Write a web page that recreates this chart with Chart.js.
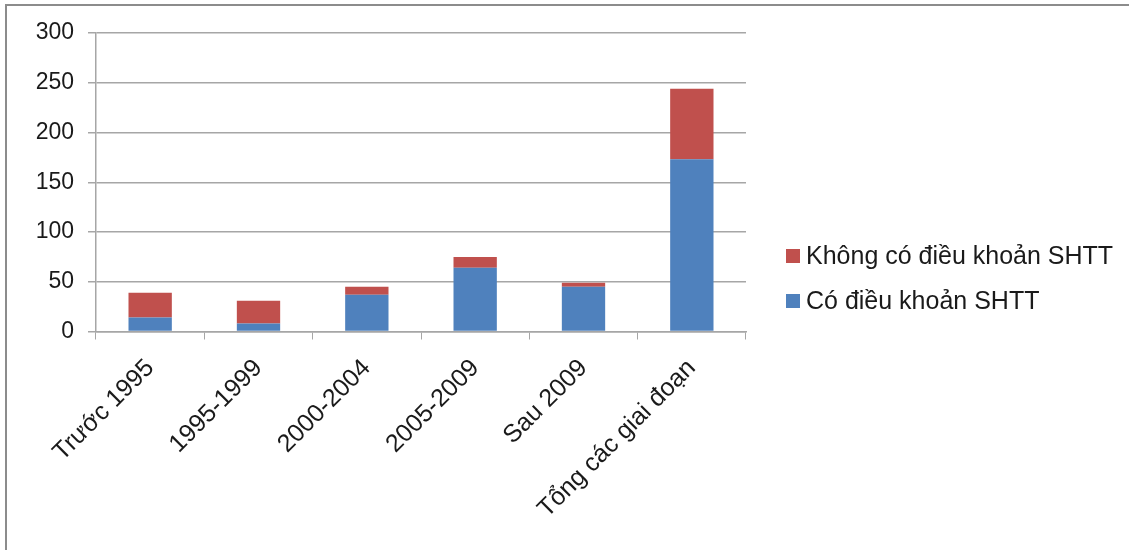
<!DOCTYPE html>
<html lang="vi">
<head>
    <meta charset="UTF-8">
    <title>Điều khoản SHTT</title>
    <style>
        body {
            margin: 0;
            background: #fff;
        }
        .wrap {
            position: relative;
            width: 1129px;
            height: 550px;
        }
        .frame {
            position: absolute;
            left: 5px;
            top: 4px;
            right: 0;
            bottom: 0;
            border-left: 2px solid #8c8c8c;
            border-top: 2px solid #8c8c8c;
            pointer-events: none;
        }
    </style>
</head>
<body>
    <div class="wrap">
        <canvas id="chart" width="1129" height="550"></canvas>
        <div class="frame"></div>
    </div>
    <script src="https://cdn.jsdelivr.net/npm/chart.js"></script>
    <script>
        // categories (periods)
        const periods = ['Trước 1995', '1995-1999', '2000-2004', '2005-2009', 'Sau 2009', 'Tổng các giai đoạn'];
        // agreements with an IP clause
        const withClause = [14, 8, 37, 64, 45, 173];
        // agreements without an IP clause
        const withoutClause = [25, 23, 8, 11, 4, 71];
        const yTicks = [0, 50, 100, 150, 200, 250, 300];

        const FONT = "'Liberation Sans', Arial, sans-serif";
        const TEXT = '#1a1a1a';
        const GRID = '#a6a6a6';

        // legend drawn at the right, red entry first like the original
        const sideLegend = {
            id: 'sideLegend',
            afterDraw(chart) {
                const ctx = chart.ctx;
                const items = chart.data.datasets.slice().reverse();
                ctx.save();
                ctx.font = '25px ' + FONT;
                ctx.textBaseline = 'middle';
                ctx.textAlign = 'left';
                items.forEach((ds, i) => {
                    const cy = 256 + i * 45;
                    ctx.fillStyle = ds.backgroundColor;
                    ctx.fillRect(786, cy - 7, 14, 14);
                    ctx.fillStyle = TEXT;
                    ctx.fillText(ds.label, 806, cy + 1);
                });
                ctx.restore();
            }
        };

        const ctx = document.getElementById('chart').getContext('2d');
        new Chart(ctx, {
            type: 'bar',
            data: {
                labels: periods,
                datasets: [
                    {
                        label: 'Có điều khoản SHTT',
                        data: withClause,
                        backgroundColor: '#4f81bd'
                    },
                    {
                        label: 'Không có điều khoản SHTT',
                        data: withoutClause,
                        backgroundColor: '#c0504d'
                    }
                ]
            },
            options: {
                responsive: false,
                animation: false,
                layout: {
                    padding: { left: 0, top: 33, right: 383, bottom: 0 }
                },
                datasets: {
                    bar: {
                        categoryPercentage: 1,
                        barPercentage: 0.4
                    }
                },
                plugins: {
                    legend: { display: false },
                    tooltip: { enabled: false }
                },
                scales: {
                    x: {
                        stacked: true,
                        afterFit: (scale) => { scale.height = 218.5; },
                        grid: {
                            drawOnChartArea: false,
                            color: GRID,
                            tickLength: 8
                        },
                        border: { color: GRID, width: 1.5 },
                        ticks: {
                            color: TEXT,
                            font: { family: FONT, size: 25 },
                            minRotation: 45,
                            maxRotation: 45,
                            padding: 14
                        }
                    },
                    y: {
                        stacked: true,
                        min: 0,
                        max: 300,
                        afterFit: (scale) => { scale.width = 96; },
                        afterBuildTicks: (scale) => {
                            scale.ticks = yTicks.map(v => ({ value: v }));
                        },
                        grid: {
                            color: GRID,
                            lineWidth: 1.5,
                            tickLength: 8
                        },
                        border: { color: GRID, width: 1.5 },
                        ticks: {
                            color: TEXT,
                            font: { family: FONT, size: 23 },
                            padding: 14
                        }
                    }
                }
            },
            plugins: [sideLegend]
        });
    </script>
</body>
</html>
